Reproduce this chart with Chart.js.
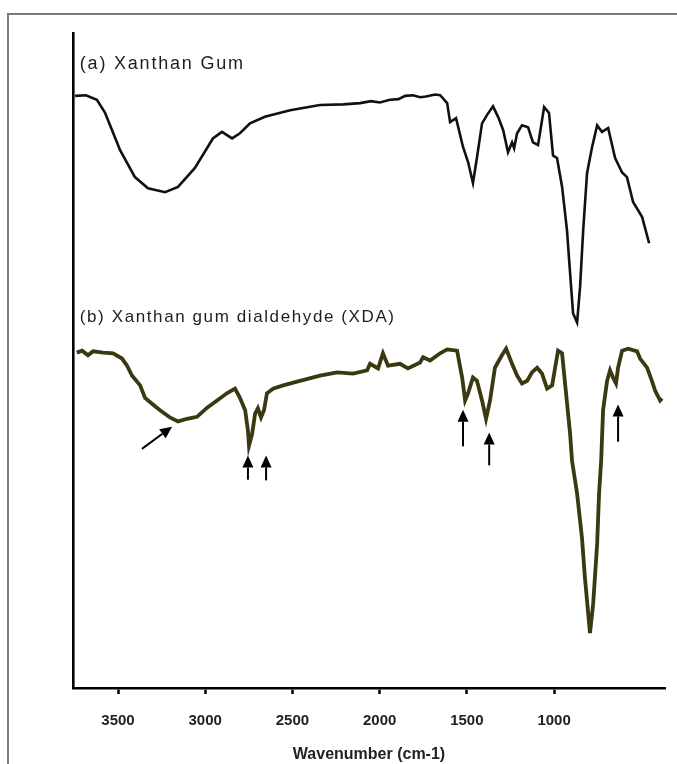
<!DOCTYPE html>
<html>
<head>
<meta charset="utf-8">
<script src="https://cdn.jsdelivr.net/npm/chart.js@4.4.0/dist/chart.umd.min.js"></script>
<style>
  html, body { margin: 0; padding: 0; background: #fff; }
  #wrap { position: relative; width: 677px; height: 764px; overflow: hidden; }
  #frame { position: absolute; left: 7px; top: 13px; width: 720px; height: 800px;
           border-left: 2px solid #7a7a7a; border-top: 2px solid #7a7a7a; }
  #chart { position: absolute; left: 0; top: 0; }
</style>
</head>
<body>
<div id="wrap">
  <div id="frame"></div>
  <canvas id="chart" width="677" height="764"></canvas>
</div>
<script>
// (a) Xanthan Gum
const wavenumberA = [3746, 3684, 3621, 3574, 3488, 3403, 3328, 3230, 3156, 3059, 2956, 2904, 2846, 2801, 2743,
  2658, 2513, 2342, 2208, 2112, 2050, 1998, 1941, 1892, 1854, 1808, 1768, 1734, 1682, 1653, 1613, 1596, 1562,
  1522, 1493, 1465, 1442, 1413, 1384, 1350, 1321, 1292, 1264, 1241, 1229, 1212, 1184, 1149, 1121, 1092, 1081,
  1057, 1029, 1006, 983, 954, 926, 908, 891, 868, 851, 833, 811, 782, 753, 725, 690, 650, 610, 582, 547,
  495, 455];
const xanthanGum = [90.4, 90.5, 89.8, 87.8, 82.1, 78.0, 76.3, 75.7, 76.5, 79.4, 83.9, 84.9, 83.9, 84.7, 86.2,
  87.2, 88.2, 89.0, 89.1, 89.3, 89.6, 89.4, 89.8, 89.9, 90.4, 90.5, 90.2, 90.3, 90.6, 90.5, 89.3, 86.4, 87.0,
  82.6, 80.3, 77.1, 81.0, 86.2, 87.5, 88.8, 87.2, 85.2, 81.8, 83.3, 82.4, 84.7, 85.9, 85.6, 83.3, 82.9, 84.7,
  88.7, 87.8, 81.3, 80.9, 76.5, 69.9, 63.3, 57.2, 55.8, 61.2, 69.9, 78.6, 82.6, 85.9, 84.9, 85.5, 80.9, 78.7,
  78.0, 74.2, 71.9, 67.9];

// (b) Xanthan gum dialdehyde (XDA)
const wavenumberB = [3736, 3706, 3672, 3643, 3586, 3528, 3477, 3448, 3420, 3373, 3345, 3305, 3259, 3202, 3156,
  3104, 3047, 2989, 2932, 2876, 2829, 2801, 2771, 2755, 2749, 2731, 2714, 2698, 2680, 2663, 2646, 2611, 2553,
  2457, 2342, 2244, 2152, 2072, 2055, 2009, 1981, 1952, 1883, 1838, 1768, 1751, 1711, 1653, 1613, 1556, 1527,
  1510, 1493, 1465, 1442, 1413, 1390, 1367, 1339, 1299, 1275, 1241, 1212, 1184, 1154, 1126, 1097, 1069, 1040,
  1011, 994, 977, 954, 937, 908, 897, 868, 840, 823, 794, 776, 753, 742, 730, 719, 696, 679, 662, 645,
  633, 610, 575, 524, 507, 467, 439, 421, 392, 381];
const xdaValues = [51.2, 51.5, 50.8, 51.4, 51.2, 51.1, 50.3, 49.2, 47.7, 46.2, 44.3, 43.4, 42.4, 41.3, 40.7,
  41.1, 41.4, 42.8, 43.9, 45.0, 45.7, 44.3, 42.4, 39.3, 37.0, 38.8, 41.9, 42.7, 41.3, 42.4, 45.0, 45.7, 46.2,
  46.9, 47.7, 48.2, 48.0, 48.5, 49.5, 48.8, 51.1, 49.2, 49.5, 48.8, 49.7, 50.5, 50.0, 51.1, 51.7, 51.5, 47.4,
  43.9, 45.0, 47.4, 46.9, 43.9, 41.1, 43.9, 48.9, 50.8, 51.8, 49.5, 47.7, 46.5, 46.9, 48.2, 48.9, 48.0, 45.7,
  46.2, 48.9, 51.5, 51.1, 46.5, 38.8, 34.7, 29.7, 22.9, 16.8, 8.4, 12.8, 22.0, 29.7, 34.7, 42.4, 46.9, 48.5,
  47.4, 46.5, 48.9, 51.5, 51.8, 51.4, 50.3, 48.9, 46.9, 45.4, 43.9, 44.2];

const xTicks = [3500, 3000, 2500, 2000, 1500, 1000];

// arrows under curve (b): tail and tip
const arrowTailX = [3363, 2755, 2651, 1522, 1372, 633];
const arrowTipX = [3190, 2755, 2651, 1522, 1372, 633];
const arrowTailY = [36.5, 31.8, 31.7, 36.9, 34.0, 37.6];
const arrowTipY = [39.9, 35.5, 35.5, 42.5, 39.0, 43.3];

const seriesLabels = ['(a) Xanthan Gum', '(b) Xanthan gum dialdehyde (XDA)'];
const labelX = [3719, 3719];
const labelY = [95.2, 56.6];
const labelSize = [18, 17];

const pts = (xs, ys) => xs.map((x, i) => ({x: x, y: ys[i]}));

const annotate = {
  id: 'annotate',
  afterDatasetsDraw(chart) {
    const ctx = chart.ctx;
    const sx = chart.scales.x, sy = chart.scales.y;
    ctx.save();
    // series labels
    ctx.fillStyle = '#1e1e1e';
    ctx.textBaseline = 'middle';
    ctx.textAlign = 'left';
    seriesLabels.forEach((t, i) => {
      ctx.font = labelSize[i] + 'px "Liberation Sans", Arial, sans-serif';
      ctx.letterSpacing = (labelSize[i] === 18 ? 1.8 : 1.6) + 'px';
      ctx.fillText(t, sx.getPixelForValue(labelX[i]), sy.getPixelForValue(labelY[i]));
    });
    ctx.letterSpacing = '0px';
    // arrows
    ctx.strokeStyle = '#000';
    ctx.fillStyle = '#000';
    ctx.lineWidth = 2;
    arrowTailX.forEach((tx, i) => {
      const x1 = sx.getPixelForValue(tx), y1 = sy.getPixelForValue(arrowTailY[i]);
      const x2 = sx.getPixelForValue(arrowTipX[i]), y2 = sy.getPixelForValue(arrowTipY[i]);
      const ang = Math.atan2(y2 - y1, x2 - x1);
      const hl = 12, hw = 5.5;
      const bx = x2 - hl * Math.cos(ang), by = y2 - hl * Math.sin(ang);
      ctx.beginPath();
      ctx.moveTo(x1, y1);
      ctx.lineTo(bx, by);
      ctx.stroke();
      ctx.beginPath();
      ctx.moveTo(x2, y2);
      ctx.lineTo(bx + hw * Math.sin(ang), by - hw * Math.cos(ang));
      ctx.lineTo(bx - hw * Math.sin(ang), by + hw * Math.cos(ang));
      ctx.closePath();
      ctx.fill();
    });
    ctx.restore();
  }
};

new Chart(document.getElementById('chart'), {
  type: 'line',
  data: {
    datasets: [
      {
        label: seriesLabels[0],
        data: pts(wavenumberA, xanthanGum),
        borderColor: '#111',
        borderWidth: 2.6,
        pointRadius: 0,
        tension: 0
      },
      {
        label: seriesLabels[1] + ' outline',
        data: pts(wavenumberB, xdaValues),
        borderColor: '#3a3912',
        borderWidth: 3.8,
        pointRadius: 0,
        tension: 0
      },
      {
        label: seriesLabels[1],
        data: pts(wavenumberB, xdaValues),
        borderColor: '#8e8b2b',
        borderWidth: 2.4,
        pointRadius: 0,
        tension: 0
      }
    ]
  },
  options: {
    responsive: false,
    animation: false,
    layout: { padding: { left: 73, top: 33, right: 12, bottom: 0 } },
    plugins: { legend: { display: false }, tooltip: { enabled: false } },
    scales: {
      x: {
        type: 'linear',
        reverse: true,
        min: 364,
        max: 3758,
        afterBuildTicks: s => { s.ticks = xTicks.map(v => ({ value: v })); },
        afterFit: s => { s.height = 76; },
        grid: { display: true, drawOnChartArea: false, drawTicks: true, tickLength: 6, tickWidth: 2.5, color: '#000' },
        border: { display: true, color: '#000', width: 2.6 },
        ticks: {
          color: '#222',
          padding: 18,
          maxRotation: 0,
          callback: v => String(v),
          font: { family: '"Liberation Sans", Arial, sans-serif', weight: 'bold', size: 15 }
        },
        title: {
          display: true,
          text: 'Wavenumber (cm-1)',
          color: '#222',
          padding: { top: -3, bottom: 0 },
          font: { family: '"Liberation Sans", Arial, sans-serif', weight: 'bold', size: 16 }
        }
      },
      y: {
        min: 0,
        max: 100,
        afterFit: s => { s.width = 0; },
        grid: { display: false, drawTicks: false },
        border: { display: true, color: '#000', width: 2.6 },
        ticks: { display: false }
      }
    }
  },
  plugins: [annotate]
});
</script>
</body>
</html>
